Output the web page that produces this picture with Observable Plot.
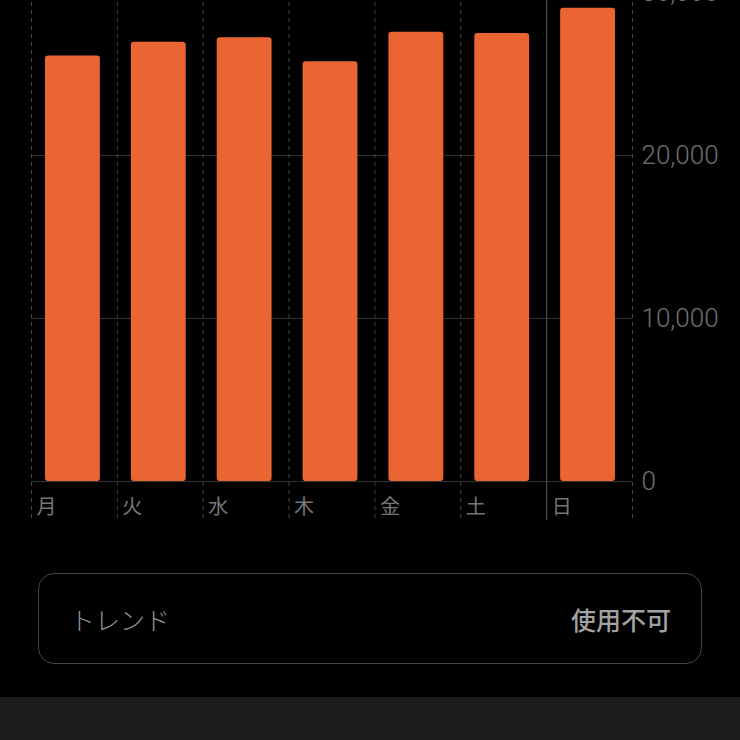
<!DOCTYPE html>
<html>
<head>
<meta charset="utf-8">
<script src="https://cdn.jsdelivr.net/npm/d3@7"></script>
<script src="https://cdn.jsdelivr.net/npm/@observablehq/plot@0.6"></script>
<style>
  html, body { margin: 0; padding: 0; background: #000; }
  #page { position: relative; width: 740px; height: 740px; overflow: hidden; background: #000; }
  #chart { position: absolute; left: 0; top: -30px; }
  #trend {
    position: absolute; left: 38px; top: 573px; width: 601px; height: 89px;
    border: 1.5px solid #444; border-radius: 16px;
    display: flex; align-items: center; justify-content: space-between;
    padding: 0 30px 0 31px; box-sizing: content-box;
    font-family: "Noto Sans CJK JP", sans-serif;
  }
  #trend .l { font-size: 25px; color: #939393; font-weight: 300; }
  #trend .r { font-size: 25px; color: #a2a2a2; font-weight: 500; }
  #strip { position: absolute; left: 0; top: 697px; width: 740px; height: 43px; background: #1c1c1e; }
</style>
</head>
<body>
<div id="page">
  <div id="chart"></div>
  <div id="trend"><span class="l">トレンド</span><span class="r">使用不可</span></div>
  <div id="strip"></div>
</div>
<script>
const days = ["月", "火", "水", "木", "金", "土", "日"];
const steps = [26100, 26950, 27220, 25750, 27560, 27480, 29040];
const yTicks = [0, 10000, 20000, 30000];
const weekBoundary = 6;

const data = days.map((day, i) => ({ day, i, steps: steps[i] }));
const boundaries = d3.range(days.length + 1);

const chart = Plot.plot({
  width: 740,
  height: 560,
  marginTop: 22,
  marginBottom: 49,
  marginLeft: 31,
  marginRight: 108,
  style: { background: "transparent", color: "#707070", fontFamily: "Roboto, 'Noto Sans CJK JP', sans-serif" },
  x: { type: "linear", domain: [0, days.length], axis: null },
  y: { domain: [0, 30000], axis: null },
  marks: [
    Plot.ruleY(yTicks, { stroke: "#333", strokeWidth: 1 }),
    Plot.ruleX(boundaries.filter(b => b !== weekBoundary), {
      stroke: "#454545", strokeDasharray: "4,4", insetTop: -22, insetBottom: -39
    }),
    Plot.ruleX([weekBoundary], { stroke: "#4a4a4a", strokeWidth: 1.2, insetTop: -22, insetBottom: -39 }),
    Plot.rectY(data, {
      x1: "i", x2: d => d.i + 1, y: "steps",
      fill: "#EB6532", insetLeft: 14, insetRight: 17, rx: 3
    }),
    Plot.axisY(yTicks, {
      anchor: "right", tickSize: 0, tickPadding: 9,
      tickFormat: d3.format(","), fontSize: 26, fontWeight: 300, label: null
    }),
    Plot.text(data, {
      x: "i", text: "day", frameAnchor: "bottom", dy: 32, dx: 5,
      textAnchor: "start", fontSize: 20, fill: "#777",
      fontFamily: "'Noto Sans CJK JP', sans-serif"
    })
  ]
});
document.getElementById("chart").appendChild(chart);
</script>
</body>
</html>
